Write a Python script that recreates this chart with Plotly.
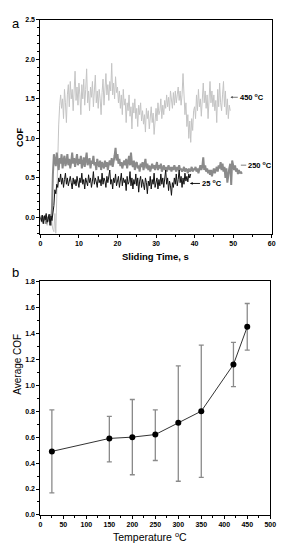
import plotly.graph_objects as go

# ---------------- data: panel a (COF vs sliding time, sampled every 0.25 s) ----------------
DT = 0.25
cof_450 = [
    -0.02, 0.03, -0.05, 0.01, -0.08, 0.02, -0.04, -0.1, 0.0, -0.06, 0.04, -0.03,
    -0.08, -0.15, -0.18, 0.05, -0.2, 0.3,
    1.0, 1.17,
    1.42, 1.55, 1.38, 1.5, 1.25, 1.62, 1.45, 1.2, 1.55, 1.68, 1.4, 1.72,
    1.5, 1.62, 1.35, 1.58, 1.85, 1.48, 1.65, 1.42, 1.7, 1.55, 1.3, 1.68,
    1.5, 1.75, 1.42, 1.62, 1.88, 1.45, 1.6, 1.35, 1.65, 1.52, 1.72, 1.4,
    1.55, 1.8, 1.45, 1.6, 1.38, 1.62, 1.5, 1.3, 1.58, 1.75, 1.42, 1.6,
    1.82, 1.55, 1.68, 1.48, 1.72, 1.6, 1.95, 1.55, 1.7, 1.5, 1.78, 1.58,
    1.65, 1.45, 1.6, 1.38, 1.55, 1.3, 1.62, 1.42, 1.5, 1.2, 1.45, 1.35,
    1.55, 1.28, 1.4, 1.12, 1.45, 1.32, 1.5, 1.25, 1.38, 1.15, 1.42, 1.3,
    1.45, 1.22, 1.35, 1.18, 1.3, 1.08, 1.38, 1.25, 1.35, 1.12, 1.28, 1.4,
    1.2, 1.32, 1.05, 1.3, 1.38, 1.22, 1.45, 1.3, 1.35, 1.5, 1.25, 1.42,
    1.3, 1.48, 1.38, 1.55, 1.4, 1.52, 1.35, 1.6, 1.45, 1.38, 1.58, 1.42,
    1.6, 1.45, 1.55, 1.65, 1.48, 1.6, 1.42, 1.55, 1.82, 1.5, 1.3, 1.45,
    1.15, 1.3, 1.0, 1.22, 0.95, 1.25, 1.1, 1.35, 1.4, 1.25, 1.55, 1.35,
    1.62, 1.4, 1.5, 1.28, 1.55, 1.7, 1.45, 1.6, 1.38, 1.55, 1.25, 1.5,
    1.72, 1.45, 1.6, 1.4, 1.55, 1.35, 1.48, 1.2, 1.62, 1.4, 1.7, 1.45,
    1.35, 1.55, 1.72, 1.4, 1.6, 1.3, 1.5, 1.25, 1.42, 1.35,
]
cof_250 = [
    -0.03, 0.02, -0.06, 0.0, -0.04, 0.03, -0.08, -0.02, 0.01, -0.05, 0.04, -0.1,
    0.1, 0.55, 0.8, 0.72, 0.65, 0.82, 0.7, 0.6,
    0.75, 0.68, 0.8, 0.62, 0.72, 0.78, 0.65, 0.7, 0.8, 0.66, 0.74, 0.62,
    0.7, 0.82, 0.68, 0.75, 0.64, 0.72, 0.8, 0.66, 0.74, 0.68, 0.78, 0.62,
    0.7, 0.76, 0.64, 0.72, 0.82, 0.66, 0.7, 0.75, 0.62, 0.72, 0.68, 0.78,
    0.66, 0.7, 0.6, 0.74, 0.68, 0.64, 0.72, 0.6, 0.7, 0.66, 0.62, 0.72,
    0.64, 0.7, 0.6, 0.68, 0.72, 0.66, 0.75, 0.64, 0.7, 0.78, 0.88, 0.72,
    0.8, 0.68, 0.74, 0.65, 0.7, 0.62, 0.68, 0.72, 0.66, 0.74, 0.62, 0.7,
    0.78, 0.66, 0.82, 0.68, 0.64, 0.72, 0.6, 0.68, 0.7, 0.62, 0.66, 0.58,
    0.68, 0.64, 0.7, 0.6, 0.66, 0.74, 0.62, 0.68, 0.6, 0.66, 0.58, 0.64,
    0.68, 0.62, 0.66, 0.6, 0.64, 0.7, 0.6, 0.66, 0.62, 0.68, 0.58, 0.64,
    0.66, 0.6, 0.64, 0.58, 0.62, 0.66, 0.6, 0.64, 0.58, 0.64, 0.6, 0.66,
    0.62, 0.58, 0.64, 0.6, 0.66, 0.6, 0.62, 0.58, 0.6, 0.64, 0.58, 0.62,
    0.6, 0.56, 0.62, 0.58, 0.6, 0.64, 0.58, 0.62, 0.6, 0.64, 0.58, 0.62,
    0.56, 0.62, 0.66, 0.6, 0.64, 0.76, 0.6, 0.66, 0.58, 0.62, 0.56, 0.6,
    0.54, 0.6, 0.52, 0.58, 0.62, 0.56, 0.6, 0.64, 0.58, 0.66, 0.62, 0.7,
    0.6, 0.68, 0.58, 0.64, 0.5, 0.62, 0.44, 0.58, 0.62, 0.68, 0.41, 0.72,
    0.65, 0.6, 0.66, 0.58, 0.62, 0.55, 0.6, 0.56, 0.58, 0.55,
]
cof_25 = [
    0.0, -0.05, 0.03, -0.08, 0.02, -0.03, 0.05, -0.06, -0.02, 0.04, -0.1, 0.02,
    -0.04, 0.05, 0.15, 0.35, 0.3, 0.42, 0.38, 0.5,
    0.45, 0.55, 0.42, 0.5, 0.38, 0.48, 0.56, 0.42, 0.5, 0.4, 0.46, 0.52,
    0.44, 0.36, 0.5, 0.42, 0.48, 0.4, 0.52, 0.45, 0.38, 0.5, 0.44, 0.56,
    0.42, 0.48, 0.36, 0.5, 0.46, 0.4, 0.54, 0.44, 0.5, 0.38, 0.46, 0.58,
    0.42, 0.5, 0.45, 0.38, 0.52, 0.44, 0.48, 0.4, 0.56, 0.42, 0.5, 0.46,
    0.38, 0.52, 0.44, 0.5, 0.6, 0.42, 0.48, 0.36, 0.5, 0.44, 0.55, 0.4,
    0.46, 0.52, 0.38, 0.48, 0.56, 0.4, 0.5, 0.44, 0.48, 0.34, 0.52, 0.42,
    0.45, 0.58, 0.4, 0.5, 0.36, 0.48, 0.42, 0.55, 0.4, 0.5, 0.32, 0.46,
    0.52, 0.38, 0.48, 0.42, 0.35, 0.5, 0.44, 0.3, 0.46, 0.4, 0.52, 0.36,
    0.48, 0.42, 0.56, 0.38, 0.44, 0.5, 0.36, 0.48, 0.4, 0.55, 0.42, 0.5,
    0.38, 0.46, 0.6, 0.42, 0.5, 0.34, 0.46, 0.4, 0.28, 0.44, 0.38, 0.5,
    0.42, 0.55, 0.4, 0.48, 0.6, 0.44, 0.52, 0.38, 0.5, 0.42, 0.56, 0.46,
    0.52, 0.45, 0.55, 0.5, 0.55,
]

# ---------------- data: panel b (average COF vs temperature) ----------------
temps = [25, 150, 200, 250, 300, 350, 420, 450]
avg_cof = [0.49, 0.59, 0.60, 0.62, 0.71, 0.80, 1.16, 1.45]
err_hi = [0.81, 0.76, 0.89, 0.81, 1.15, 1.31, 1.33, 1.63]
err_lo = [0.17, 0.41, 0.31, 0.42, 0.26, 0.29, 0.99, 1.27]

def times(vals):
    return [round(i * DT, 2) for i in range(len(vals))]

err_plus = [h - m for h, m in zip(err_hi, avg_cof)]
err_minus = [m - l for l, m in zip(err_lo, avg_cof)]

W, H = 284, 555
fig = go.Figure()

fig.add_trace(go.Scatter(x=times(cof_450), y=cof_450, mode="lines",
                         line=dict(color="#c4c4c4", width=1), xaxis="x", yaxis="y"))
fig.add_trace(go.Scatter(x=times(cof_250), y=cof_250, mode="lines",
                         line=dict(color="#8a8a8a", width=2), xaxis="x", yaxis="y"))
fig.add_trace(go.Scatter(x=times(cof_25), y=cof_25, mode="lines",
                         line=dict(color="#111111", width=1), xaxis="x", yaxis="y"))

fig.add_trace(go.Scatter(x=temps, y=avg_cof, mode="lines+markers",
                         line=dict(color="#333333", width=1),
                         marker=dict(color="black", size=6),
                         error_y=dict(type="data", array=err_plus, arrayminus=err_minus,
                                      color="#8a8a8a", thickness=1.3, width=2.5),
                         xaxis="x2", yaxis="y2"))

tickfont = dict(family="Arial", size=7, color="black", weight="bold")
common = dict(showline=True, linecolor="black", linewidth=1, mirror=True,
              showgrid=False, zeroline=False, ticks="outside", ticklen=3,
              tickcolor="black", tickfont=tickfont)

px = lambda v: v / W
py = lambda v: 1 - v / H

fig.update_layout(
    width=W, height=H, margin=dict(l=0, r=0, t=0, b=0),
    paper_bgcolor="white", plot_bgcolor="white", showlegend=False,
    xaxis=dict(domain=[px(39.5), px(277.5)], range=[0, 60], dtick=10,
               minor=dict(dtick=5, ticks="outside", ticklen=2, tickcolor="black"),
               anchor="y", **common),
    yaxis=dict(domain=[py(233), py(16)], range=[-0.21, 2.5], dtick=0.5, tickformat=".1f",
               minor=dict(dtick=0.1, ticks="outside", ticklen=2, tickcolor="black"),
               anchor="x", **common),
    xaxis2=dict(domain=[px(39.5), px(276)], range=[0, 500], dtick=50,
                minor=dict(dtick=25, ticks="outside", ticklen=2, tickcolor="black"),
                anchor="y2", **common),
    yaxis2=dict(domain=[py(517.5), py(281)], range=[0, 1.8], dtick=0.2, tickformat=".1f",
                minor=dict(dtick=0.1, ticks="outside", ticklen=2, tickcolor="black"),
                anchor="x2", **common),
)

lab = dict(family="Arial", color="black")
annotations = [
    dict(text="a", x=px(8), y=py(10), xref="paper", yref="paper", showarrow=False,
         font=dict(size=13, **lab)),
    dict(text="b", x=px(8), y=py(272), xref="paper", yref="paper", showarrow=False,
         font=dict(size=13, **lab)),
    dict(text="COF", x=px(12), y=py(123), xref="paper", yref="paper", showarrow=False,
         textangle=-90, font=dict(size=9, weight="bold", **lab)),
    dict(text="Sliding Time, s", x=px(158), y=py(256), xref="paper", yref="paper",
         showarrow=False, font=dict(size=9.5, weight="bold", **lab)),
    dict(text="Average COF", x=px(8), y=py(398), xref="paper", yref="paper", showarrow=False,
         textangle=-90, font=dict(size=10, **lab)),
    dict(text="Temperature <sup>o</sup>C", x=px(152), y=py(548), xref="paper", yref="paper",
         showarrow=False, font=dict(size=10.5, **lab)),
    # series labels with their pointers
    dict(text="450 <sup>o</sup>C", x=49.3, y=1.52, ax=51.2, ay=1.52, xref="x", yref="y",
         axref="x", ayref="y", xanchor="left", showarrow=True, arrowhead=2,
         arrowsize=0.6, arrowwidth=0.8, arrowcolor="#555555", standoff=0,
         font=dict(size=7.5, weight="bold", **lab)),
    dict(text="250 <sup>o</sup>C", x=52.0, y=0.66, ax=53.4, ay=0.66, xref="x", yref="y",
         axref="x", ayref="y", xanchor="left", showarrow=True, arrowhead=0,
         arrowwidth=1.5, arrowcolor="#aaaaaa", standoff=0,
         font=dict(size=7.5, weight="bold", **lab)),
    dict(text="25 <sup>o</sup>C", x=38.8, y=0.43, ax=41.4, ay=0.43, xref="x", yref="y",
         axref="x", ayref="y", xanchor="left", showarrow=True, arrowhead=2,
         arrowsize=0.6, arrowwidth=0.9, arrowcolor="black", standoff=0,
         font=dict(size=7.5, weight="bold", **lab)),
]
fig.update_layout(annotations=annotations)

fig.write_html("out.html")
